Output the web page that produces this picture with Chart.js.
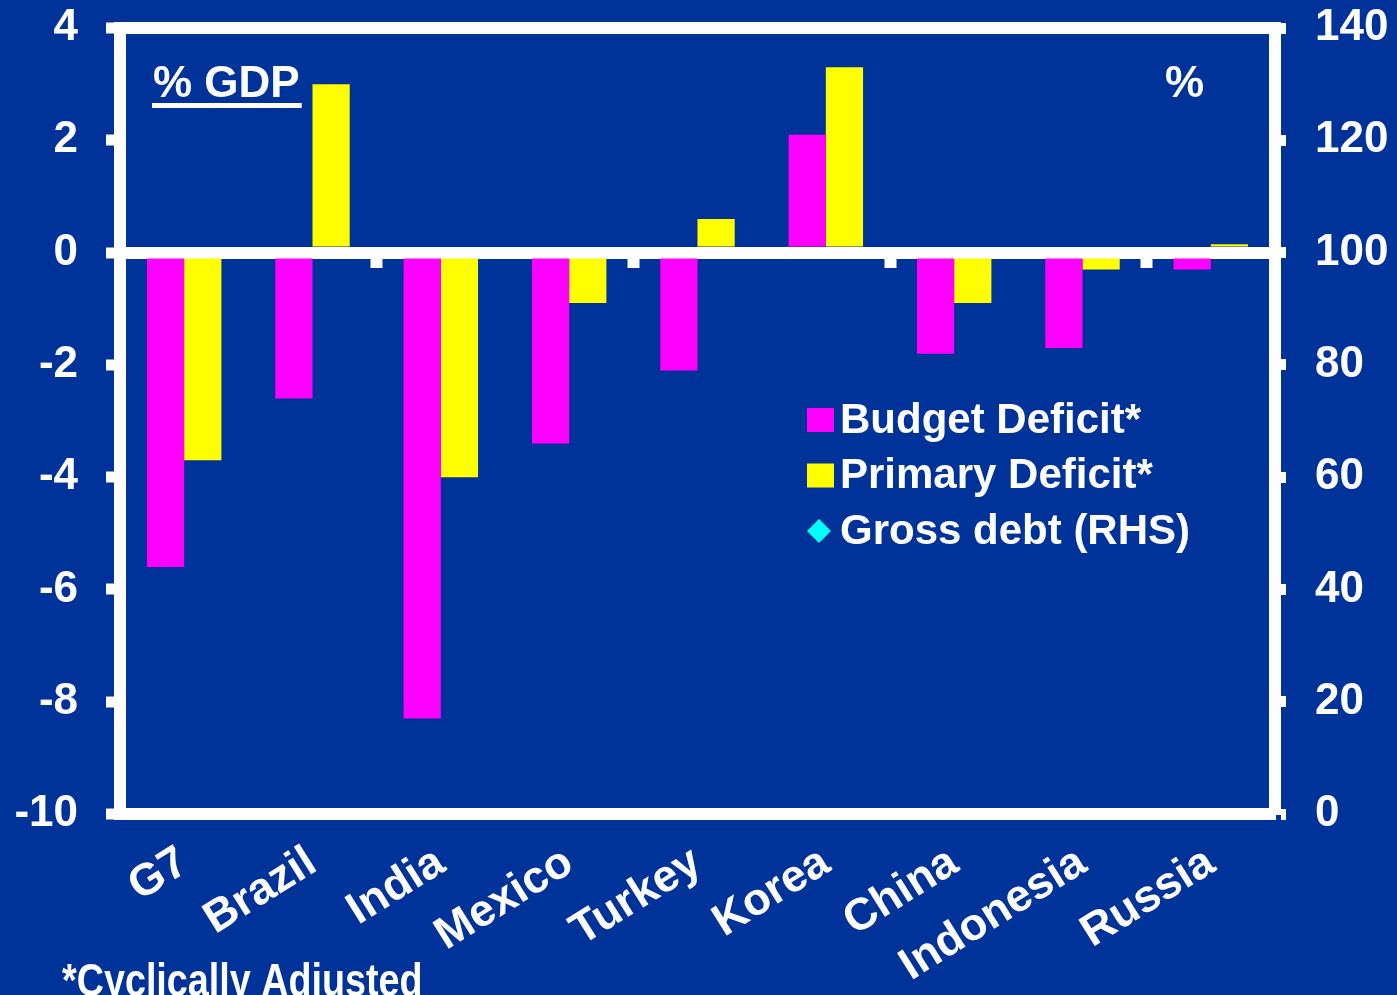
<!DOCTYPE html>
<html><head><meta charset="utf-8">
<script src="https://cdn.jsdelivr.net/npm/chart.js@4.4.0/dist/chart.umd.min.js"></script>
<style>html,body{margin:0;padding:0;background:#003399;overflow:hidden}#wrap{width:1397px;height:995px;position:relative}</style>
</head><body><div id="wrap"><canvas id="c"></canvas></div>
<script>
const categories = ['G7','Brazil','India','Mexico','Turkey','Korea','China','Indonesia','Russia'];
const budgetDeficit = [-5.6, -2.6, -8.3, -3.4, -2.1, 2.1, -1.8, -1.7, -0.3];
const primaryDeficit = [-3.7, 3.0, -4.0, -0.9, 0.6, 3.3, -0.9, -0.3, 0.15];
const grossDebt = [null, null, null, null, null, null, null, null, null];
const seriesNames = ['Budget Deficit*', 'Primary Deficit*', 'Gross debt (RHS)'];
const seriesColors = ['#ff00ff', '#ffff00', '#00ffff'];
const leftAxis = {min: -10, max: 4, step: 2};
const rightAxis = {min: 0, max: 140, step: 20};
const leftTitle = '% GDP';
const rightTitle = '%';
const footnote = '*Cyclically Adjusted';

const BG = '#003399';
const WHITE = '#ffffff';
const FONT = "'Liberation Sans', Arial, sans-serif";

const bgPlugin = {
  id: 'bg',
  beforeDraw(chart) {
    const ctx = chart.ctx;
    ctx.save();
    ctx.fillStyle = BG;
    ctx.fillRect(0, 0, chart.width, chart.height);
    ctx.restore();
  }
};

const textPlugin = {
  id: 'texts',
  afterDraw(chart) {
    const ctx = chart.ctx;
    const a = chart.chartArea;
    ctx.save();
    ctx.fillStyle = WHITE;
    ctx.textBaseline = 'alphabetic';
    ctx.textAlign = 'left';
    ctx.font = 'bold 44px ' + FONT;
    // left unit title with underline
    const lx = a.left + 33, ly = a.top + 69;
    ctx.fillText(leftTitle, lx, ly);
    const w = ctx.measureText(leftTitle).width;
    ctx.fillRect(lx - 1, ly + 6, w + 3, 5);
    // right unit title
    ctx.fillText(rightTitle, a.right - 110, ly);
    // legend
    ctx.font = 'bold 42px ' + FONT;
    ctx.textBaseline = 'middle';
    const ds = chart.data.datasets;
    const x0 = 807, y0 = 420, dy = 55.5;
    ds.forEach((d, i) => {
      const cy = y0 + i * dy;
      ctx.fillStyle = d.backgroundColor;
      if (d.pointStyle === 'rectRot') {
        ctx.beginPath();
        ctx.moveTo(x0 + 12, cy - 12);
        ctx.lineTo(x0 + 24, cy);
        ctx.lineTo(x0 + 12, cy + 12);
        ctx.lineTo(x0, cy);
        ctx.closePath();
        ctx.fill();
      } else {
        ctx.fillRect(x0, cy - 12, 27, 24);
      }
      ctx.fillStyle = WHITE;
      ctx.fillText(d.label, x0 + 33, cy + 1);
    });
    // footnote (narrow bold)
    ctx.textBaseline = 'alphabetic';
    ctx.font = 'bold 46px ' + FONT;
    ctx.translate(62, 996);
    ctx.scale(0.82, 1);
    ctx.fillText(footnote, 0, 0);
    ctx.restore();
  }
};

const zeroAndTop = (c) => (c.tick && (c.tick.value === 0 || c.tick.value === leftAxis.max)) ? WHITE : 'rgba(0,0,0,0)';
const boundaryTick = (c) => (c.index > 0 && c.index % 2 === 0) ? WHITE : 'rgba(0,0,0,0)';
const noPad = (s) => { s.paddingTop = 0; s.paddingBottom = 0; s.paddingLeft = 0; s.paddingRight = 0; };

new Chart(document.getElementById('c'), {
  type: 'bar',
  data: {
    labels: categories,
    datasets: [
      {label: seriesNames[0], data: budgetDeficit, backgroundColor: seriesColors[0], yAxisID: 'y', xAxisID: 'x', pointStyle: 'rect'},
      {label: seriesNames[1], data: primaryDeficit, backgroundColor: seriesColors[1], yAxisID: 'y', xAxisID: 'x', pointStyle: 'rect'},
      {type: 'line', label: seriesNames[2], data: grossDebt, backgroundColor: seriesColors[2], borderColor: seriesColors[2], yAxisID: 'y1', xAxisID: 'x', showLine: false, pointStyle: 'rectRot', pointRadius: 12}
    ]
  },
  options: {
    responsive: true,
    maintainAspectRatio: false,
    animation: false,
    devicePixelRatio: 1,
    categoryPercentage: 0.58,
    barPercentage: 1.0,
    layout: {padding: {top: 28, left: 0, right: 0, bottom: 0}},
    plugins: {legend: {display: false}, tooltip: {enabled: false}},
    scales: {
      x: {
        type: 'category',
        position: 'bottom',
        offset: true,
        afterFit(s) { s.height = 181; noPad(s); },
        grid: {display: false, drawTicks: false, offset: true},
        border: {display: true, color: WHITE, width: 12},
        ticks: {color: WHITE, font: {family: FONT, size: 45, weight: 'bold'}, minRotation: 32, maxRotation: 32, autoSkip: false, padding: 22}
      },
      x2: {
        type: 'category',
        labels: categories,
        position: {y: 0},
        offset: true,
        z: 1,
        grid: {offset: true, drawOnChartArea: false, drawTicks: true, tickLength: 15, tickWidth: 12, color: boundaryTick, tickColor: boundaryTick},
        border: {display: false},
        ticks: {display: false}
      },
      y: {
        position: 'left',
        min: leftAxis.min, max: leftAxis.max,
        z: 1,
        afterFit(s) { s.width = 120; noPad(s); },
        grid: {drawOnChartArea: true, drawTicks: true, tickLength: 14, lineWidth: 12, tickWidth: 11, color: zeroAndTop, tickColor: WHITE},
        border: {display: true, color: WHITE, width: 12},
        ticks: {stepSize: leftAxis.step, color: WHITE, padding: 28, font: {family: FONT, size: 44, weight: 'bold'}}
      },
      y1: {
        position: 'right',
        min: rightAxis.min, max: rightAxis.max,
        z: 1,
        afterFit(s) { s.width = 122; noPad(s); },
        grid: {drawOnChartArea: false, drawTicks: true, tickLength: 11, tickWidth: 11, color: WHITE, tickColor: WHITE},
        border: {display: true, color: WHITE, width: 12},
        ticks: {stepSize: rightAxis.step, color: WHITE, padding: 29, font: {family: FONT, size: 44, weight: 'bold'}}
      }
    }
  },
  plugins: [bgPlugin, textPlugin]
});
</script></body></html>
